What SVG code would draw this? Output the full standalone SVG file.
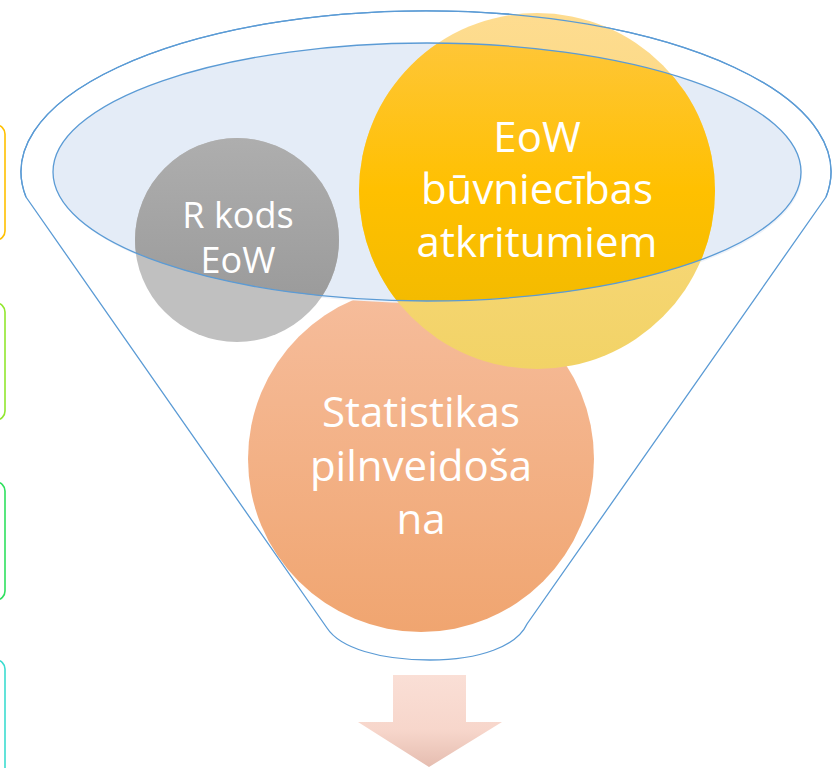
<svg xmlns="http://www.w3.org/2000/svg" width="833" height="768" viewBox="0 0 833 768">
<style>
.t{font-family:"Open Sans","Liberation Sans",sans-serif;fill:#fff;text-anchor:middle}
.line{fill:none;stroke:#5B9BD5;stroke-width:1.3}
.box{fill:#fff;stroke-width:1.6}
</style>
<defs>
<linearGradient id="gGray" x1="0" y1="0" x2="0" y2="1"><stop offset="0" stop-color="#AEAEAE"/><stop offset="1" stop-color="#969696"/></linearGradient>
<linearGradient id="gYel" x1="0" y1="0" x2="0" y2="1"><stop offset="0" stop-color="#FEC742"/><stop offset="0.5" stop-color="#FFC000"/><stop offset="1" stop-color="#EDB800"/></linearGradient>
<linearGradient id="gYelOut" x1="0" y1="0" x2="0" y2="1"><stop offset="0" stop-color="#FEDC90"/><stop offset="1" stop-color="#F2D366"/></linearGradient>
<linearGradient id="gOr" x1="0" y1="0" x2="0" y2="1"><stop offset="0" stop-color="#F6BD9C"/><stop offset="1" stop-color="#F0A570"/></linearGradient>
<linearGradient id="gArr" x1="0" y1="0" x2="0" y2="1"><stop offset="0" stop-color="#FADFD6"/><stop offset="0.6" stop-color="#F7D6CB"/><stop offset="1" stop-color="#E5BDB0"/></linearGradient>
<clipPath id="clipE"><ellipse cx="427" cy="172" rx="374" ry="129"/></clipPath>
</defs>

<g id="side-boxes">
<rect class="box" x="-200" y="125" width="205" height="115" rx="9" stroke="#FFC000"/>
<rect class="box" x="-200" y="303" width="205" height="117" rx="9" stroke="#92E72E"/>
<rect class="box" x="-200" y="482" width="205" height="118" rx="9" stroke="#2FE05E"/>
<rect class="box" x="-200" y="660" width="205" height="140" rx="9" stroke="#3CDCD0"/>
</g>

<g id="funnel">
<path class="line" d="M26,197 A405 161 0 1 1 826,197 L527,624 C517,646 480,660 430,660 C380,660 340,648 327,628 Z"/>
</g>

<g id="node-statistikas">
<circle cx="421" cy="459" r="173" fill="url(#gOr)"/>
</g>

<g id="inner-ellipse">
<ellipse cx="428" cy="174" rx="374" ry="129" fill="#EEF2F9"/>
<ellipse cx="427" cy="172" rx="374" ry="129" fill="#E4ECF7"/>
</g>

<g id="node-rkods">
<circle cx="237" cy="240" r="102" fill="#C0C0C0"/>
<circle cx="237" cy="240" r="102" fill="url(#gGray)" clip-path="url(#clipE)"/>
<text class="t" x="238" y="228" font-size="36">R kods</text>
<text class="t" x="238" y="273" font-size="36">EoW</text>
</g>

<g id="node-eow">
<circle cx="537" cy="191" r="178" fill="url(#gYelOut)"/>
<circle cx="537" cy="191" r="178" fill="url(#gYel)" clip-path="url(#clipE)"/>
<text class="t" x="537" y="152" font-size="42">EoW</text>
<text class="t" x="537" y="204" font-size="42">būvniecības</text>
<text class="t" x="537" y="257" font-size="42">atkritumiem</text>
</g>

<g id="connectors">
<ellipse class="line" cx="427" cy="172" rx="374" ry="129"/>
<path class="line" d="M26,197 A405 161 0 1 1 826,197"/>
</g>

<g id="node-statistikas-text">
<text class="t" x="421" y="427" font-size="42">Statistikas</text>
<text class="t" x="421" y="481" font-size="42">pilnveidoša</text>
<text class="t" x="421" y="534" font-size="42">na</text>
</g>

<g id="arrow">
<path d="M393,675 H466 V722 H502 L429,767 L358,722 H393 Z" fill="url(#gArr)"/>
</g>
</svg>
